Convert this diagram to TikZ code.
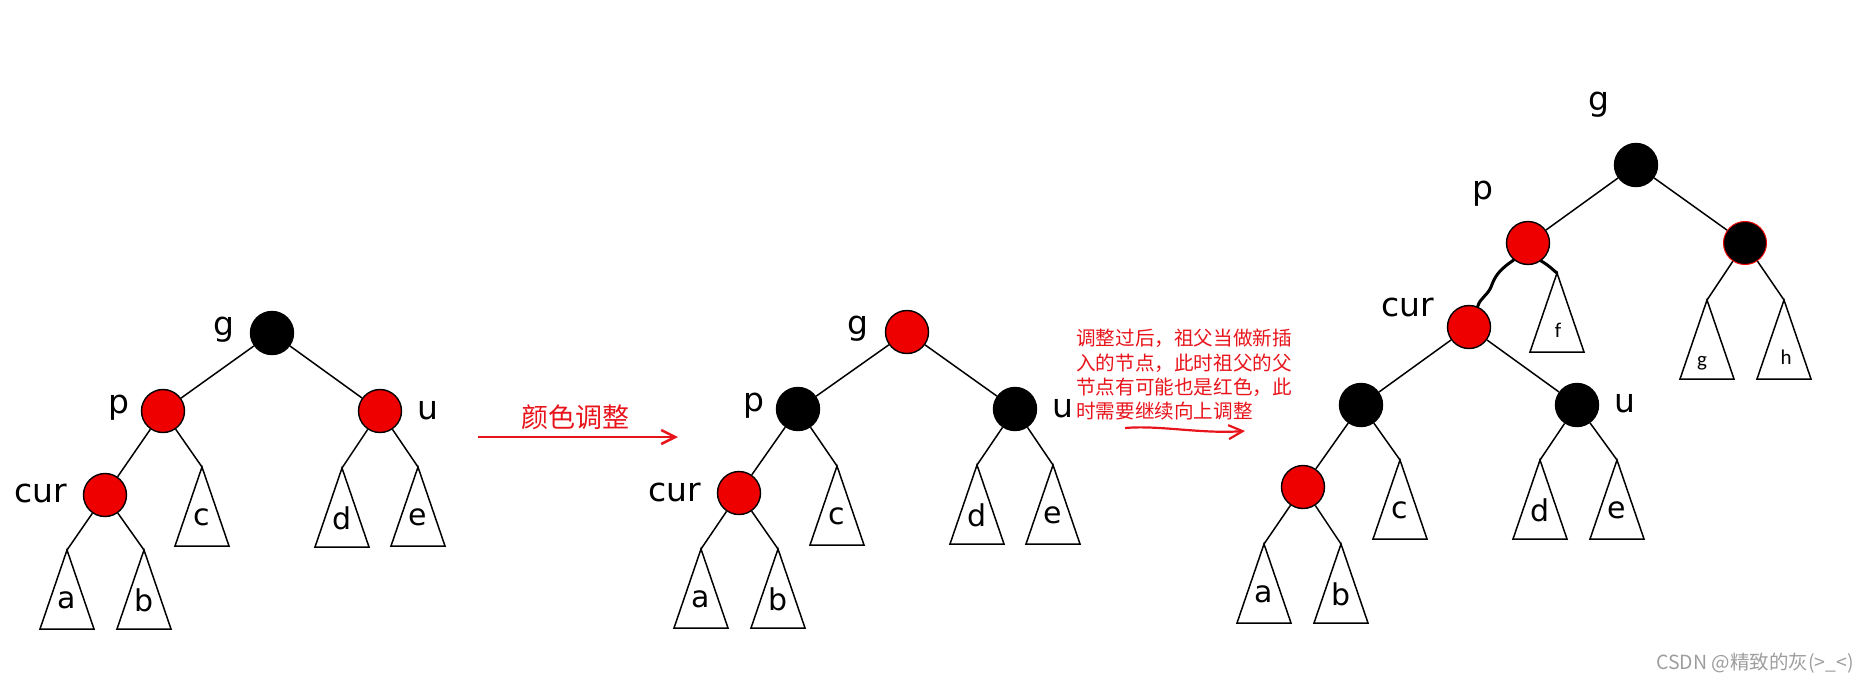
\documentclass[tikz,border=0pt]{standalone}
\usepackage{fontspec}
\usetikzlibrary{arrows.meta}
\newfontfamily\labfont{DejaVu Sans}
\newfontfamily\cjkfont{Noto Sans CJK SC}
\newfontfamily\leaffont{Carlito}
\definecolor{rbred}{HTML}{EE0000}
\definecolor{notered}{HTML}{E8141B}
\definecolor{wmgray}{HTML}{9E9E9E}

\begin{document}
\begin{tikzpicture}[x=1pt,y=-1pt,
  rb/.style={circle,draw=black,line width=1.4pt,minimum size=43pt,inner sep=0pt},
  rnode/.style={rb,fill=rbred},
  bnode/.style={rb,fill=black},
  lab/.style={font=\labfont\fontsize{33}{33}\selectfont,inner sep=0pt},
  leaf/.style={font=\labfont\fontsize{30}{30}\selectfont,inner sep=0pt},
  tinyleaf/.style={font=\leaffont\fontsize{21}{21}\selectfont,inner sep=0pt},
  edge/.style={line width=1.5pt},
  hand/.style={line width=3pt,line cap=round,line join=round},
  redarrow/.style={notered,line width=2.5pt,-{Straight Barb[length=14pt,width=14pt]}},
  note/.style={font=\cjkfont\fontsize{19.6}{19.6}\selectfont,text=notered,inner sep=0pt,anchor=base west}]
\useasboundingbox (0,0) rectangle (1864,681);

% subtrees a..e
\foreach \n/\x/\y/\lab in {a1/67/550/a,b1/144/550/b,c1/202/467/c,d1/342/468/d,e1/418/467/e,
  a2/701/549/a,b2/778/549/b,c2/837/466/c,d2/977/465/d,e2/1053/465/e,
  a3/1264/544/a,b3/1341/544/b,c3/1400/460/c,d3/1540/460/d,e3/1617/460/e} {
 \coordinate (\n) at (\x,\y);
 \draw[edge] (\n) -- ++(-27,79) -- ++(54,0) -- cycle;
 \node[leaf] (\n-lab) at (\x,\y+50) {\lab};
}
\foreach \n/\x/\y/\lx/\ly/\lab in {f3/1557/273/1558/330/f,gt3/1707/300/1702/363/g,ht3/1784/300/1786/357/h} {
 \coordinate (\n) at (\x,\y);
 \draw[edge] (\n) -- ++(-27,79) -- ++(54,0) -- cycle;
 \node[tinyleaf] (\n-lab) at (\lx,\ly) {\lab};
}

% before
\node[bnode] (g1) at (272,333) {};
\node[rnode] (p1) at (163,411) {};
\node[rnode] (u1) at (380,411) {};
\node[rnode] (cur1) at (105,495) {};
% after recolouring
\node[rnode] (g2) at (907,332) {};
\node[bnode] (p2) at (798,409) {};
\node[bnode] (u2) at (1015,409) {};
\node[rnode] (cur2) at (739,493) {};
% one level up
\node[bnode] (g3) at (1636,165) {};
\node[rnode] (p3) at (1528,243) {};
\node[bnode,draw=rbred,line width=1pt] (r3) at (1745,243) {};
\node[rnode] (cur3) at (1469,327) {};
\node[bnode] (x3) at (1361,405) {};
\node[bnode] (u3) at (1577,405) {};
\node[rnode] (n3) at (1303,487) {};

\foreach \n/\x/\y/\t in {g1/224/330/g,p1/119/408/p,u1/428/410/u,cur1/41/493/cur,
  g2/858/329/g,p2/754/406/p,u2/1063/408/u,cur2/675/492/cur,
  g3/1599/105/g,p3/1483/194/p,cur3/1408/307/cur,u3/1625/403/u}
 \node[lab] (\n-l) at (\x,\y) {\t};

\foreach \a/\b in {g1/p1,g1/u1,p1/cur1,p1/c1,u1/d1,u1/e1,cur1/a1,cur1/b1,
  g2/p2,g2/u2,p2/cur2,p2/c2,u2/d2,u2/e2,cur2/a2,cur2/b2,
  g3/p3,g3/r3,r3/gt3,r3/ht3,cur3/x3,cur3/u3,x3/n3,x3/c3,n3/a3,n3/b3,u3/d3,u3/e3}
 \draw[edge] (\a) -- (\b);
\draw[hand] (p3.230) .. controls (1499,270) and (1495,276) .. (1491,287)
  .. controls (1487,296) and (1480,298) .. (cur3.67);
\draw[hand] (p3.306) .. controls (1550,266) and (1555,272) .. (f3);

\coordinate (s1) at (478,437);
\coordinate (t1) at (678,437);
\draw[redarrow] (s1) -- (t1);
\node[font=\cjkfont\fontsize{27}{27}\selectfont,text=notered,inner sep=0pt] (recolor) at (575,417) {颜色调整};

\foreach \i/\y/\txt in {1/345/调整过后，祖父当做新插,2/370/入的节点，此时祖父的父,
  3/394/节点有可能也是红色，此,4/418/时需要继续向上调整}
 \node[note] (note\i) at (1076,\y) {\txt};
\coordinate (s2) at (1125,428);
\coordinate (t2) at (1245,431);
\draw[redarrow,line width=2.2pt] (s2) .. controls (1160,425) and (1200,434) .. (t2);

\node[font=\cjkfont\fontsize{19.5}{19.5}\selectfont,text=wmgray,anchor=east,inner sep=0pt] (mark) at (1854,663) {CSDN @精致的灰(>\_<)};
\end{tikzpicture}
\end{document}
